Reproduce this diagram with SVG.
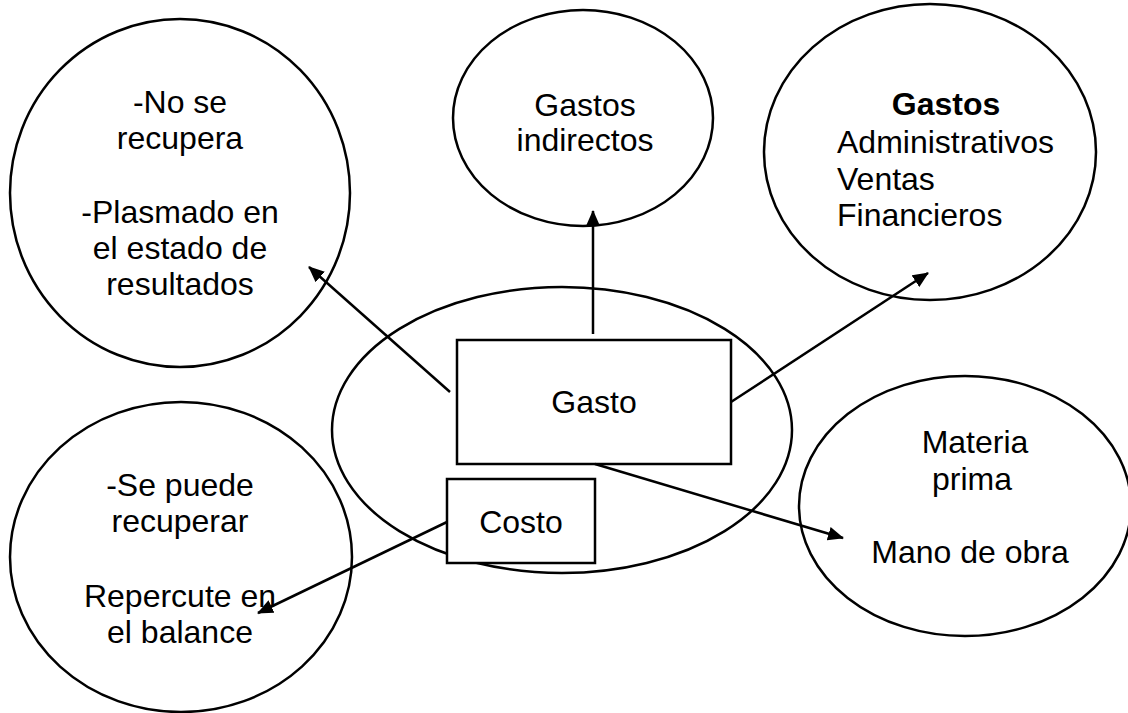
<svg xmlns="http://www.w3.org/2000/svg" width="1128" height="713" viewBox="0 0 1128 713">
<style>
.shape{fill:none;stroke:#000;stroke-width:2.5}
.box{fill:#fff;stroke:#000;stroke-width:2.5}
.lbl{font-family:"Liberation Sans",Arial,sans-serif;font-size:32px;fill:#000}
.mid{text-anchor:middle}
.conn{stroke:#000;stroke-width:2.5;fill:none}
</style>
<defs>
<marker id="ah" markerUnits="userSpaceOnUse" markerWidth="16" markerHeight="14" refX="15" refY="7" orient="auto">
<path d="M0,0 L16,7 L0,14 z" fill="#000"/>
</marker>
</defs>
<rect width="1128" height="713" fill="#fff"/>
<g id="node-gasto-area">
<ellipse class="shape" cx="562" cy="430" rx="230" ry="143"/>
</g>
<g id="node-no-recupera">
<ellipse class="shape" cx="180" cy="193" rx="170" ry="174"/>
<text class="lbl mid" x="180" y="113">-No se</text>
<text class="lbl mid" x="180" y="149">recupera</text>
<text class="lbl mid" x="180" y="223">-Plasmado en</text>
<text class="lbl mid" x="180" y="259">el estado de</text>
<text class="lbl mid" x="180" y="295">resultados</text>
</g>
<g id="node-gastos-indirectos">
<ellipse class="shape" cx="583" cy="118" rx="130" ry="108"/>
<text class="lbl mid" x="585" y="116">Gastos</text>
<text class="lbl mid" x="585" y="151">indirectos</text>
</g>
<g id="node-gastos-admin">
<ellipse class="shape" cx="930" cy="152" rx="166" ry="148"/>
<text class="lbl mid" x="946" y="115" font-weight="bold">Gastos</text>
<text class="lbl" x="837" y="153">Administrativos</text>
<text class="lbl" x="837" y="190">Ventas</text>
<text class="lbl" x="837" y="226">Financieros</text>
</g>
<g id="node-se-recupera">
<ellipse class="shape" cx="181" cy="557" rx="171" ry="155"/>
<text class="lbl mid" x="180" y="496">-Se puede</text>
<text class="lbl mid" x="180" y="532">recuperar</text>
<text class="lbl mid" x="180" y="607">Repercute en</text>
<text class="lbl mid" x="180" y="643">el balance</text>
</g>
<g id="node-materia-prima">
<ellipse class="shape" cx="965" cy="506" rx="166" ry="130"/>
<text class="lbl mid" x="975" y="453">Materia</text>
<text class="lbl mid" x="972" y="490">prima</text>
<text class="lbl mid" x="970" y="563">Mano de obra</text>
</g>
<g id="node-gasto">
<rect class="box" x="457" y="340" width="274" height="124"/>
<text class="lbl mid" x="594" y="413">Gasto</text>
</g>
<g id="node-costo">
<rect class="box" x="447" y="479" width="148" height="84"/>
<text class="lbl mid" x="521" y="533">Costo</text>
</g>
<g id="connectors">
<line class="conn" x1="450" y1="392" x2="309" y2="267" marker-end="url(#ah)"/>
<line class="conn" x1="593" y1="334" x2="593" y2="211" marker-end="url(#ah)"/>
<line class="conn" x1="731" y1="402" x2="928" y2="273" marker-end="url(#ah)"/>
<line class="conn" x1="595" y1="464" x2="843" y2="538" marker-end="url(#ah)"/>
<line class="conn" x1="447" y1="522" x2="258" y2="613" marker-end="url(#ah)"/>
</g>
</svg>
